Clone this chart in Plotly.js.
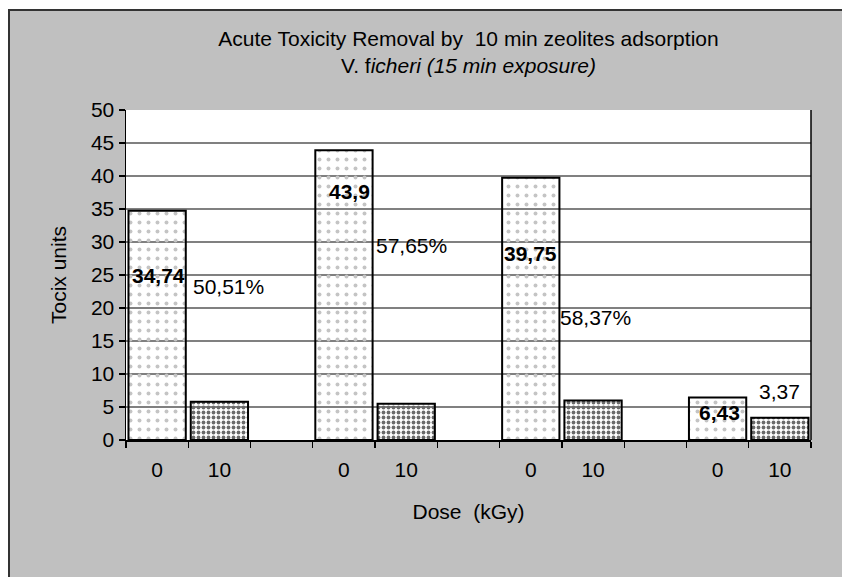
<!DOCTYPE html>
<html>
<head>
<meta charset="utf-8">
<script src="https://cdn.plot.ly/plotly-3.0.1.min.js"></script>
<style>
  html, body { margin: 0; padding: 0; background: #ffffff; overflow: hidden; }
  #frame { position: absolute; left: 8px; top: 9px; width: 832px; height: 566px;
           border-left: 2px solid #333333; border-top: 2px solid #333333; background: #c0c0c0; }
  #chart { width: 832px; height: 566px; }
</style>
</head>
<body>
<div id="frame"><div id="chart"></div></div>
<script>
// ---- data ----
const doseLabels = ['0', '10'];
const nGroups = 4;
const toxicity0 = [34.74, 43.9, 39.75, 6.43];   // dose 0 kGy
const toxicity10 = [5.8, 5.5, 6.0, 3.37];        // dose 10 kGy
const labels0 = ['34,74', '43,9', '39,75', '6,43'];
const labels10 = ['50,51%', '57,65%', '58,37%', '3,37'];
const yTicks = [0, 5, 10, 15, 20, 25, 30, 35, 40, 45, 50];

// ---- layout helpers ----
const slot = 3; // each group occupies 3 slots (0, 10, gap)
const pos = (g, d) => g * slot + d;
const xs0 = toxicity0.map((_, g) => pos(g, 0));
const xs10 = toxicity10.map((_, g) => pos(g, 1));
const tickVals = [], tickText = [];
for (let g = 0; g < nGroups; g++) {
  tickVals.push(pos(g, 0), pos(g, 1));
  tickText.push(doseLabels[0], doseLabels[1]);
}

const font = 'Liberation Sans, Arial, sans-serif';
const fs = 21;

const traces = [
  {
    type: 'bar', x: xs0, y: toxicity0, width: 0.92, name: doseLabels[0] + ' kGy',
    marker: { color: '#ececec', line: { color: '#000000', width: 2 },
              pattern: { shape: '.', fgcolor: '#c4c4c4', size: 9, solidity: 0.15 } },
    hoverinfo: 'x+y', showlegend: false
  },
  {
    type: 'bar', x: xs10, y: toxicity10, width: 0.92, name: doseLabels[1] + ' kGy',
    marker: { color: '#ababab', line: { color: '#000000', width: 2 },
              pattern: { shape: '.', fgcolor: '#6a6a6a', size: 5, solidity: 0.45 } },
    hoverinfo: 'x+y', showlegend: false
  }
];

// label placements (offsets relative to each bar, in data units)
const lab0Place = [
  { dx: 0.02, y: 25.0, anchor: 'center' },
  { dx: 0.45, y: 37.6, anchor: 'right' },
  { dx: 0.0, y: 28.3, anchor: 'center' },
  { dx: 0.03, y: 4.2, anchor: 'center' }
];
const lab10Place = [
  { dx: -0.45, y: 23.2, anchor: 'left' },
  { dx: -0.51, y: 29.4, anchor: 'left' },
  { dx: -0.57, y: 18.6, anchor: 'left' },
  { dx: 0.0, y: 7.4, anchor: 'center' }
];

const annotations = [];
labels0.forEach((t, g) => {
  const p = lab0Place[g];
  annotations.push({ x: xs0[g] + p.dx, y: p.y, xref: 'x', yref: 'y', text: '<b>' + t + '</b>',
    showarrow: false, xanchor: p.anchor, yanchor: 'middle',
    font: { family: font, size: fs, color: '#000000' } });
});
labels10.forEach((t, g) => {
  const p = lab10Place[g];
  annotations.push({ x: xs10[g] + p.dx, y: p.y, xref: 'x', yref: 'y', text: t,
    showarrow: false, xanchor: p.anchor, yanchor: 'middle',
    font: { family: font, size: fs, color: '#000000' } });
});

const layout = {
  width: 832, height: 566,
  margin: { l: 116, r: 31, t: 99, b: 137 },
  paper_bgcolor: '#c0c0c0', plot_bgcolor: '#ffffff',
  font: { family: font, size: fs, color: '#000000' },
  title: {
    text: 'Acute Toxicity Removal by  10 min zeolites adsorption<br>V. f<i>icheri (15 min exposure)</i>',
    x: 0.5, xref: 'paper', xanchor: 'center', y: 0.939, yref: 'container', yanchor: 'middle',
    font: { family: font, size: fs, color: '#000000' }
  },
  bargap: 0,
  xaxis: {
    range: [-0.5, nGroups * slot - 1.5], tickvals: tickVals, ticktext: tickText,
    ticks: '', ticklabelstandoff: 10, showgrid: false, zeroline: false,
    showline: true, linecolor: '#000000', linewidth: 1.5, mirror: false,
    tickfont: { family: font, size: fs, color: '#000000' },
    minor: { ticks: 'outside', tick0: -0.5, dtick: 1, ticklen: 6, tickcolor: '#000000', tickwidth: 1.2, showgrid: false },
    title: { text: 'Dose  (kGy)', standoff: 24, font: { family: font, size: fs, color: '#000000' } },
    automargin: false, fixedrange: true
  },
  yaxis: {
    range: [0, 50], tickvals: yTicks, ticks: 'outside', ticklen: 6, tickcolor: '#000000', tickwidth: 1.2,
    showgrid: true, gridcolor: '#808080', gridwidth: 1.5, zeroline: false,
    showline: true, linecolor: '#000000', linewidth: 1.5,
    tickfont: { family: font, size: fs, color: '#000000' },
    title: { text: 'Tocix units', standoff: 18, font: { family: font, size: fs, color: '#000000' } },
    automargin: false, fixedrange: true
  },
  shapes: [
    { type: 'line', xref: 'paper', yref: 'paper', x0: 1, x1: 1, y0: 0, y1: 1,
      line: { color: '#000000', width: 1.5 } }
  ],
  annotations: annotations
};

Plotly.newPlot('chart', traces, layout, { displayModeBar: false, staticPlot: true });
</script>
</body>
</html>
